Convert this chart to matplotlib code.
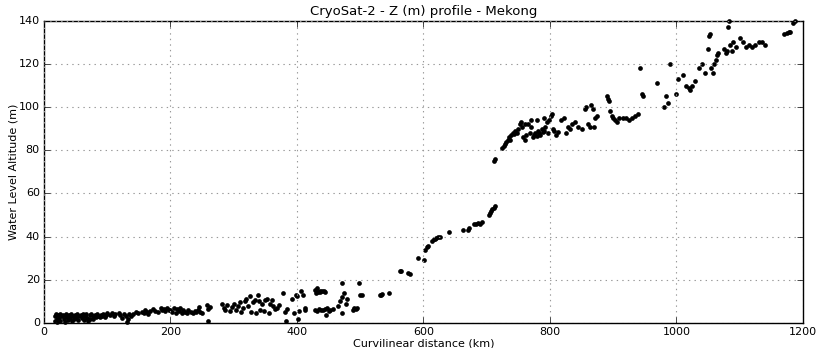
import matplotlib
matplotlib.use("Agg")
import matplotlib.pyplot as plt
import numpy as np

# CryoSat-2 water level points along the Mekong (distance km, altitude m)
lower_km = [17, 18, 19, 20, 21, 22, 24, 25, 26, 28, 30, 31, 33, 34, 35, 37, 38, 40, 41, 43,
            44, 46, 47, 49, 50, 52, 53, 55, 58, 60, 62, 63, 65, 67, 68, 70, 72, 73, 75, 77,
            78, 80, 82, 84, 85, 88, 90, 92, 94, 96, 98, 100, 104, 108, 110, 113, 118, 120,
            124, 127, 130, 131, 133, 135, 138, 141, 145, 148, 155, 158, 160, 163, 165, 168,
            172, 175, 180, 185, 187, 190, 192, 195, 197]
lower_z = [3, 1, 4, 2, 0.5, 3.5, 2.5, 4, 1, 3, 3.8, 2, 0.5, 3.2, 4.2, 2.8, 1.5, 3.5, 2.2, 4,
           0.8, 3, 1.8, 3.6, 2.5, 4.1, 1.2, 3, 3.5, 2.2, 4, 1.5, 3, 4.2, 2.5, 1, 3.5, 2, 4, 3,
           1.8, 3.8, 2.6, 4.3, 3.2, 2.8, 3.9, 3.3, 4.1, 2.9, 3.6, 4.5, 3.8, 4.6, 3.3, 4, 4.8, 3.5,
           2.5, 4.2, 3, 0.5, 1.8, 4, 3.3, 4.2, 5, 4.6, 5.2, 4.5, 5.8, 5, 4, 5.5,
           6.5, 5.5, 5, 7, 5.8, 6.3, 5.4, 6.8, 5.9]

middle_km = [200, 203, 205, 208, 210, 213, 215, 218, 220, 223, 226, 228, 232, 235, 238, 240,
             243, 245, 247, 250, 258, 259, 260, 262, 282, 284, 286, 290, 294, 298, 300, 303,
             306, 310, 312, 315, 318, 320, 322, 325, 327, 330, 333, 335, 338, 340, 342, 345,
             348, 350, 353, 355, 357, 360, 362, 365, 368, 372, 378, 381, 383, 385, 392, 396,
             398, 400, 402, 404, 406, 410, 412, 413, 428, 430, 432, 434, 436, 437, 440, 443,
             445, 429, 432, 435, 438, 441, 444, 447, 450, 453, 457, 446, 465, 468, 471, 471,
             474, 477, 479, 471, 488, 490, 493, 495, 498, 500, 503, 531, 533, 535, 545]
middle_z = [6, 5, 7, 4.5, 6.5, 5.5, 6.8, 4.8, 5.8, 5.2, 4.6, 6, 5, 4.4, 5.6, 5,
            6.2, 7.5, 5.3, 4.8, 8.5, 6.5, 1, 7.2, 9, 7, 6, 8.5, 5.5, 7.5, 9, 6,
            8, 9.5, 5, 7, 10, 11, 8, 12.5, 5, 9.5, 10.5, 4.5, 13, 10, 6, 9,
            5.5, 10.5, 11, 4.8, 9, 10.5, 8, 6.5, 7, 8.5, 14, 5, 1, 6.5, 11, 4.5,
            13, 12.5, 2, 5.5, 15, 13, 7, 6, 15.3, 14, 16, 14.5, 15, 14.2, 14.8, 15,
            14.5, 6, 5.5, 6.5, 6, 5.8, 6.3, 6.8, 5.7, 6.2, 6.5, 3.7, 8, 10, 12, 18.5,
            14, 9, 11, 4.5, 6, 7, 6.5, 7, 18.5, 13, 13, 13, 13, 13.5, 14]

rising_km = [563, 565, 575, 578, 591, 601, 603, 605, 607, 613, 616, 618, 620, 623, 626, 640,
             662, 670, 672, 680, 683, 686, 689, 692, 703, 705, 707, 709, 711, 713, 712, 713]
rising_z = [24, 24, 23, 22.5, 30, 29, 34, 35, 35.5, 38, 39, 39, 39.5, 40, 40, 42,
            43, 43, 44, 46, 46, 46.5, 46, 47, 50, 51, 52, 53, 53.5, 54, 75, 76]

upper_km = [725, 727, 729, 731, 733, 735, 737, 739, 741, 743, 745, 748, 750, 752, 754, 756,
            758, 760, 762, 765, 768, 770, 773, 775, 777, 779, 781, 783, 785, 787, 789, 791,
            793, 795, 797, 799, 801, 803, 805, 807, 810, 813, 760, 770, 780, 790, 818, 822,
            825, 828, 832, 835, 840, 845, 850, 855, 857, 860, 863, 865, 868, 870, 872, 875,
            890, 892, 894, 895, 898, 900, 903, 906, 910, 915, 920, 925, 930, 935, 940]
upper_z = [81, 82, 83, 84, 85, 86, 85, 87, 88, 87.5, 89, 88, 90, 92, 93, 91,
           86, 85, 87, 92, 88, 91, 86, 87, 88, 86.5, 89, 88, 87, 90, 88.5, 89,
           91, 93, 88, 94, 96, 97, 90, 89, 87, 88.5, 92, 94, 94, 95, 94, 95,
           88, 91, 90, 92, 93, 91, 90, 99, 100, 92, 91, 101, 99, 91, 95, 96,
           105, 104, 103, 98, 96, 95, 94, 93, 95, 95, 95, 94, 95, 96, 97]

head_km = [943, 945, 947, 970, 980, 983, 987, 990, 1000, 1003, 1010, 1015, 1020, 1022, 1025,
           1030, 1035, 1040, 1045, 1050, 1052, 1053, 1055, 1058, 1060, 1062, 1064, 1066,
           1075, 1078, 1080, 1082, 1083, 1085, 1088, 1090, 1095, 1100, 1105, 1110, 1115,
           1120, 1125, 1130, 1135, 1140, 1170, 1175, 1178, 1180, 1185, 1188]
head_z = [118, 106, 105, 111, 100, 105, 102, 120, 106, 113, 115, 110, 109, 108, 110,
          112, 118, 120, 116, 127, 133, 134, 118, 116, 120, 122, 124, 125,
          127, 125, 126, 137, 140, 129, 126, 130, 128, 132, 130, 128, 129,
          128, 129, 130, 130, 129, 134, 134.5, 135, 135, 139, 140]

dist_km = np.concatenate([lower_km, middle_km, rising_km, upper_km, head_km])
z_m = np.concatenate([lower_z, middle_z, rising_z, upper_z, head_z])

plt.style.use("classic")
fig = plt.figure(figsize=(8.23, 3.48), dpi=100, facecolor="white")
ax = fig.add_axes([0.0535, 0.072, 0.922, 0.868])

ax.plot(dist_km, z_m, "o", color="black", markersize=3.4, markeredgewidth=0,
        clip_on=False)

ax.set_xlim(0, 1200)
ax.set_ylim(0, 140)
ax.set_xticks(np.arange(0, 1201, 200))
ax.set_yticks(np.arange(0, 141, 20))
ax.grid(True, linestyle=":", color="#999999", linewidth=0.8)
ax.tick_params(labelsize=8, pad=3)
ax.set_xlabel("Curvilinear distance (km)", fontsize=8, labelpad=1)
ax.set_ylabel("Water Level Altitude (m)", fontsize=8, labelpad=0)
ax.set_title("CryoSat-2 - Z (m) profile - Mekong", fontsize=9.5, pad=4)

fig.savefig("out.png", dpi=100, facecolor="white")
